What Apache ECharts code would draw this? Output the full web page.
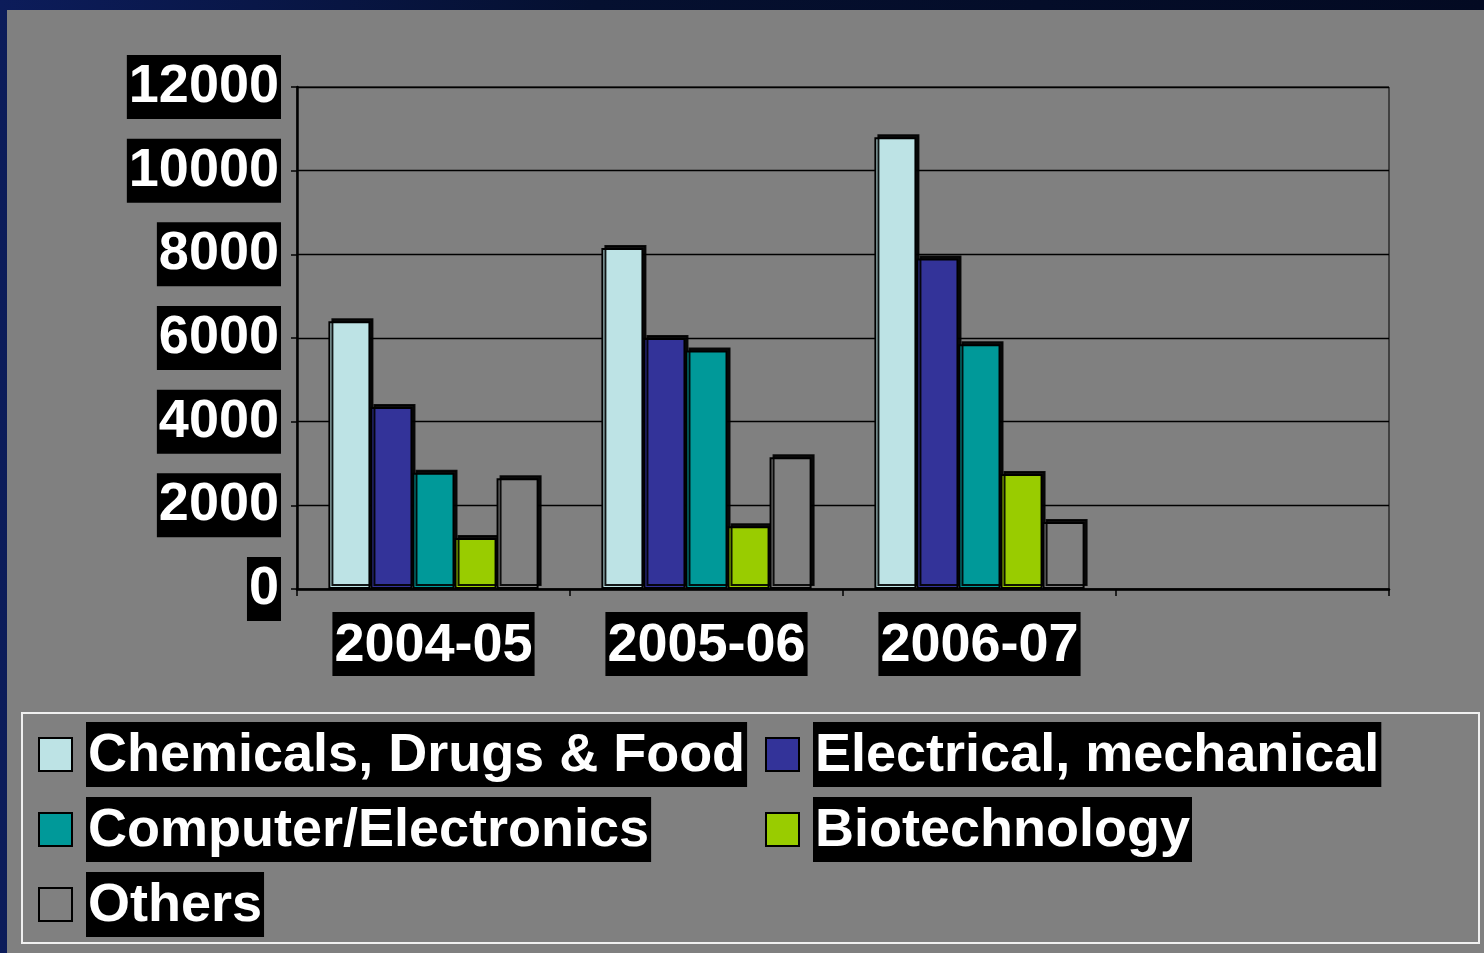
<!DOCTYPE html>
<html>
<head>
<meta charset="utf-8">
<script src="https://cdn.jsdelivr.net/npm/echarts@6/dist/echarts.min.js"></script>
<style>
html,body{margin:0;padding:0;width:1484px;height:953px;overflow:hidden;
background:linear-gradient(90deg,#0c1c5a 0%,#051030 40%,#030a22 100%);}
#chart{position:absolute;left:7px;top:10px;width:1477px;height:943px;}
</style>
</head>
<body>
<div id="chart"></div>
<script>
const categories = ['2004-05', '2005-06', '2006-07', ''];
const seriesNames = ['Chemicals, Drugs & Food', 'Electrical, mechanical', 'Computer/Electronics', 'Biotechnology', 'Others'];
const chemicals = [6400, 8150, 10800, '-'];
const electrical = [4350, 6000, 7900, '-'];
const computer = [2780, 5700, 5850, '-'];
const biotech = [1220, 1500, 2750, '-'];
const others = [2650, 3150, 1600, '-'];
const yTicks = { min: 0, max: 12000, interval: 2000 };
const colors = ['#BDE3E5', '#333399', '#009999', '#99CC00', '#808080'];

const FONT = "'Liberation Sans', Arial, sans-serif";
const values = [chemicals, electrical, computer, biotech, others];

const chart = echarts.init(document.getElementById('chart'));
const labelBox = {
  color: '#fff', fontSize: 54, fontWeight: 'bold', fontFamily: FONT,
  backgroundColor: '#000', padding: [4, 2, 0, 2], lineHeight: 60
};
const legendCommon = {
  orient: 'vertical', top: 712, padding: 0, itemGap: 10, itemWidth: 33, itemHeight: 33,
  icon: 'rect', selectedMode: false,
  itemStyle: { borderColor: '#000', borderWidth: 2, shadowBlur: 0, shadowOffsetX: 0, shadowOffsetY: 0, shadowColor: 'transparent' },
  formatter: n => '{s|}{t|' + n + '}',
  textStyle: {
    rich: {
      s: { width: 9 },
      t: { color: '#fff', fontSize: 54, fontWeight: 'bold', fontFamily: FONT, backgroundColor: '#000', padding: [4, 2, 0, 2], height: 61, lineHeight: 61 }
    }
  }
};

chart.setOption({
  backgroundColor: '#808080',
  animation: false,
  grid: { left: 290, top: 77, right: 95, bottom: 364, show: true, borderColor: '#000', borderWidth: 1, backgroundColor: 'transparent' },
  xAxis: {
    type: 'category',
    data: categories.map(c => c === '' ? { value: c, textStyle: { backgroundColor: 'transparent', padding: 0 } } : c),
    axisLine: { lineStyle: { color: '#000', width: 2.5 } },
    axisTick: { show: true, length: 7, lineStyle: { color: '#000', width: 1.5 } },
    axisLabel: Object.assign({ interval: 0, margin: 23 }, labelBox),
    splitLine: { show: false }
  },
  yAxis: {
    type: 'value', min: yTicks.min, max: yTicks.max, interval: yTicks.interval,
    axisLine: { show: true, lineStyle: { color: '#000', width: 2.5 } },
    axisTick: { show: true, length: 6, lineStyle: { color: '#000', width: 1.5 } },
    axisLabel: Object.assign({ margin: 16, formatter: v => String(v) }, labelBox),
    splitLine: { show: true, lineStyle: { color: '#000', width: 1.4 } }
  },
  legend: [
    Object.assign({ left: 31, data: [seriesNames[0], seriesNames[2], seriesNames[4]] }, legendCommon),
    Object.assign({ left: 758, data: [seriesNames[1], seriesNames[3]] }, legendCommon)
  ],
  graphic: [{
    type: 'rect', z: 100,
    shape: { x: 15, y: 703, width: 1457, height: 230 },
    style: { fill: 'none', stroke: '#f0f0f0', lineWidth: 2 }
  }],
  series: seriesNames.map((name, i) => ({
    name, type: 'bar', data: values[i],
    barGap: '0%', barCategoryGap: '23%',
    itemStyle: {
      color: colors[i], borderColor: '#000', borderWidth: 2,
      shadowColor: 'rgba(0,0,0,0.9)', shadowOffsetX: 3, shadowOffsetY: -3, shadowBlur: 0
    },
    emphasis: { disabled: true }
  }))
});
</script>
</body>
</html>
